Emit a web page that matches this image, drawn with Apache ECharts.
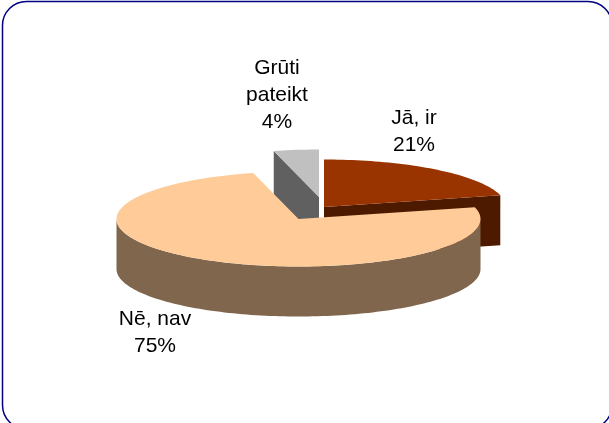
<!DOCTYPE html>
<html>
<head>
<meta charset="utf-8">
<style>
  html, body { margin: 0; padding: 0; background: #fff; }
  #chart { width: 609px; height: 423px; }
</style>
<script src="https://cdn.jsdelivr.net/npm/echarts@6/dist/echarts.min.js"></script>
</head>
<body>
<div id="chart"></div>
<script>
const categories = ['Jā, ir', 'Nē, nav', 'Grūti\npateikt'];
const sliceValues = [21, 75, 4];

const topColors = ['#993300', '#ffcc99', '#c0c0c0'];
const sideColors = ['#4d1a00', '#80664d', '#606060'];
// exploded centre of each slice, and its place in the paint order
const centers = [[324, 207], [298.5, 219], [319, 197]];
const paintOrder = [2, 3, 1];
const labelPos = [[414, 131.5], [155, 333], [277, 95]];

const RX = 182;
const RY = 47.5;
const DEPTH = 50;
const FONT = '21px "Liberation Sans", Arial, sans-serif';

const total = sliceValues.reduce((a, b) => a + b, 0);
const startAngles = [];
let acc = 0;
for (const v of sliceValues) {
  startAngles.push(acc);
  acc += v / total * 360;
}

// angle in degrees, 0 at the top and going clockwise
const rimPoint = (c, deg, drop) => {
  const r = deg * Math.PI / 180;
  return [c[0] + RX * Math.sin(r), c[1] - RY * Math.cos(r) + (drop || 0)];
};

const arcPoints = (c, from, to, drop) => {
  const pts = [];
  const n = Math.max(2, Math.ceil((to - from) / 1.5));
  for (let i = 0; i <= n; i++) {
    pts.push(rimPoint(c, from + (to - from) * i / n, drop));
  }
  return pts;
};

const renderSlice = (params, api) => {
  const i = params.dataIndex;
  const value = api.value(0);
  const c = centers[i];
  const from = startAngles[i];
  const to = from + value / total * 360;
  const z = paintOrder[i] * 10;
  const children = [];
  const poly = (points, fill, z2) => children.push({
    type: 'polygon',
    z2: z2,
    shape: { points: points },
    style: { fill: fill, stroke: null }
  });

  // cut faces that look towards the viewer
  const cutFace = (deg) => {
    const p = rimPoint(c, deg);
    poly([c, p, [p[0], p[1] + DEPTH], [c[0], c[1] + DEPTH]], sideColors[i], z);
  };
  if (from > 180) cutFace(from);
  if (to < 180) cutFace(to);

  // outer wall, only the front half of the ellipse
  const wallFrom = Math.max(from, 90);
  const wallTo = Math.min(to, 270);
  if (wallFrom < wallTo) {
    const upper = arcPoints(c, wallFrom, wallTo);
    const lower = arcPoints(c, wallFrom, wallTo, DEPTH).reverse();
    poly(upper.concat(lower), sideColors[i], z + 1);
  }

  poly([c].concat(arcPoints(c, from, to)), topColors[i], z + 2);

  children.push({
    type: 'text',
    z2: 100,
    style: {
      text: categories[i] + '\n' + value + '%',
      x: labelPos[i][0],
      y: labelPos[i][1],
      align: 'center',
      verticalAlign: 'middle',
      font: FONT,
      lineHeight: 26.8,
      fill: '#000'
    }
  });
  return { type: 'group', children: children };
};

const chart = echarts.init(document.getElementById('chart'), null, { renderer: 'canvas' });
chart.setOption({
  animation: false,
  backgroundColor: '#fff',
  graphic: [{
    type: 'rect',
    silent: true,
    shape: { x: 2.5, y: 1.5, width: 609.5, height: 427.5, r: 24 },
    style: { fill: 'none', stroke: '#000080', lineWidth: 1.5 }
  }],
  series: [{
    type: 'custom',
    coordinateSystem: 'none',
    silent: true,
    renderItem: renderSlice,
    data: sliceValues
  }]
});
</script>
</body>
</html>
